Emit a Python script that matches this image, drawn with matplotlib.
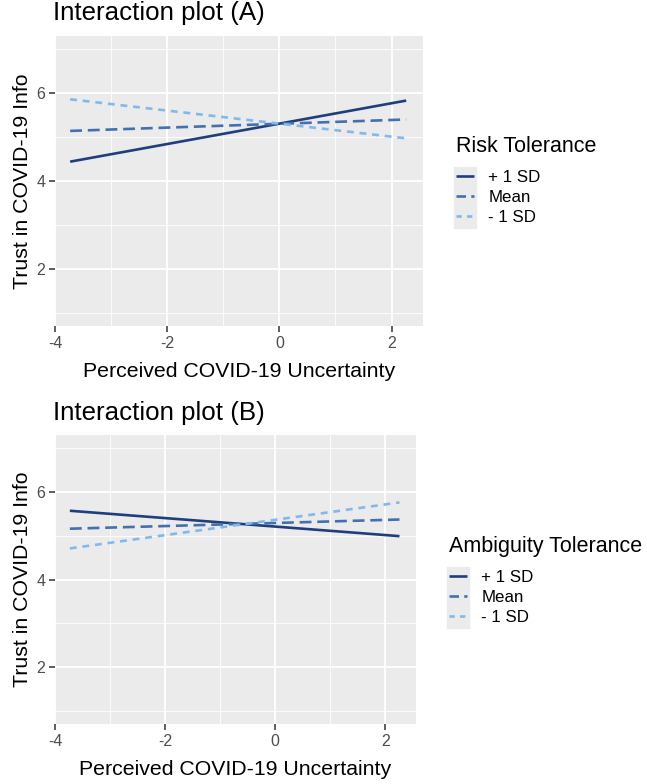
import matplotlib.pyplot as plt
from matplotlib.lines import Line2D
from matplotlib.patches import Rectangle

plt.rcParams['font.family'] = ['Liberation Sans', 'DejaVu Sans']
plt.rcParams['axes.unicode_minus'] = False

# x range of the simple slopes
x_range = [-3.73, 2.26]
levels = ["+ 1 SD", "Mean", "- 1 SD"]

# predicted trust at the ends of the x range, per moderator level
risk_plus = [4.44, 5.83]
risk_mean = [5.14, 5.40]
risk_minus = [5.86, 4.97]

amb_plus = [5.57, 4.99]
amb_mean = [5.16, 5.37]
amb_minus = [4.71, 5.76]

colors = ["#1f3f7c", "#4370ae", "#80b9ec"]
dashes = [None, (4.5, 2.2), (2.6, 2.2)]
key_dashes = [None, (3.6, 2.0), (2.0, 2.0)]

W, H = 647, 784
fig = plt.figure(figsize=(W / 100, H / 100), dpi=100)


def px_axes(left, top, right, bottom):
    return fig.add_axes([left / W, 1 - bottom / H, (right - left) / W, (bottom - top) / H])


def panel(ax, series, title, legend_title, title_y, leg_x, leg_y):
    ax.set_facecolor("#ebebeb")
    for s in ax.spines.values():
        s.set_visible(False)
    ax.set_xlim(-3.99, 2.56)
    ax.set_ylim(0.7, 7.3)
    ax.set_xticks([-4, -2, 0, 2])
    ax.set_yticks([2, 4, 6])
    ax.set_xticks([-3, -1, 1], minor=True)
    ax.set_yticks([1, 3, 5, 7], minor=True)
    ax.grid(True, which="major", color="white", lw=1.3)
    ax.grid(True, which="minor", color="white", lw=0.6)
    ax.set_axisbelow(True)
    ax.tick_params(which="major", length=4, width=1.1, color="#333333",
                   labelsize=11.5, labelcolor="#4d4d4d", pad=3)
    ax.tick_params(which="minor", length=0)
    for ys, lab, c, d in zip(series, levels, colors, dashes):
        ln, = ax.plot(x_range, ys, color=c, lw=1.9, label=lab, solid_capstyle="butt")
        if d is not None:
            ln.set_dashes(d)
    ax.set_xlabel("Perceived COVID-19 Uncertainty", fontsize=15.3, labelpad=8)
    ax.set_ylabel("Trust in COVID-19 Info", fontsize=15.3, labelpad=3)
    fig.text(53 / W, 1 - title_y / H, title, fontsize=18.6, va="baseline", ha="left")

    keys = []
    for c, d in zip(colors, key_dashes):
        k = Line2D([], [], color=c, lw=1.9, solid_capstyle="butt")
        if d is not None:
            k.set_dashes(d)
        keys.append(k)
    leg = ax.legend(keys, levels, title=legend_title, loc="upper left",
                    bbox_to_anchor=(leg_x / W, 1 - leg_y / H),
                    bbox_transform=fig.transFigure, frameon=False,
                    fontsize=12.2, title_fontsize=15.5, handlelength=1.05,
                    handletextpad=0.85, labelspacing=0.32, borderaxespad=0,
                    borderpad=0)
    leg._legend_box.align = "left"
    leg._legend_box.sep = 9
    return leg


axA = px_axes(55, 36, 423, 326)
legA = panel(axA, [risk_plus, risk_mean, risk_minus], "Interaction plot (A)",
             "Risk Tolerance", 20, 456, 136)

axB = px_axes(55, 435, 416, 724)
legB = panel(axB, [amb_plus, amb_mean, amb_minus], "Interaction plot (B)",
             "Ambiguity Tolerance", 420, 449, 536)

# grey key background behind the legend keys, like ggplot
fig.canvas.draw()
for leg in [legA, legB]:
    boxes = [h.get_window_extent() for h in leg.legend_handles]
    texts = [t.get_window_extent() for t in leg.get_texts()]
    x0 = min(b.x0 for b in boxes) - 2
    x1 = max(b.x1 for b in boxes) + 2
    y1 = texts[0].y1 + 3
    y0 = texts[-1].y0 - 3
    fig.patches.append(Rectangle((x0 / W, y0 / H), (x1 - x0) / W, (y1 - y0) / H,
                                 transform=fig.transFigure, color="#ebebeb", zorder=-1))

fig.savefig("out.png", dpi=100, facecolor="white")
